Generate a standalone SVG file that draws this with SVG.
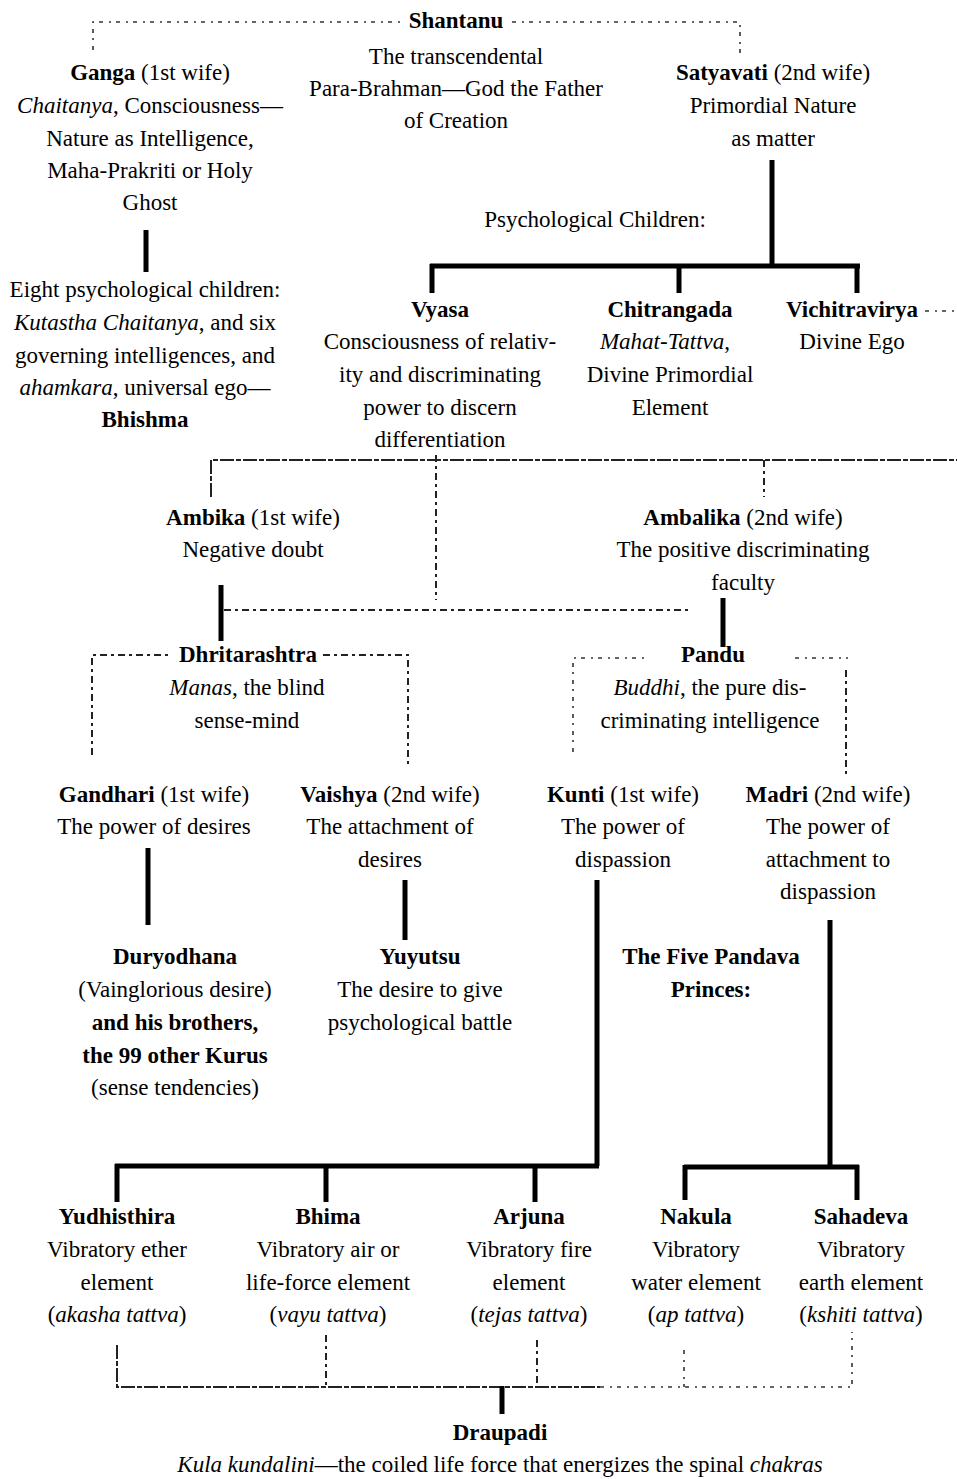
<svg xmlns="http://www.w3.org/2000/svg" width="957" height="1479" viewBox="0 0 957 1479">
<style>
text{font-family:"Liberation Serif","Times New Roman",serif;font-size:23px;fill:#000;text-anchor:middle}
.b{font-weight:bold}
.i{font-style:italic}
.thick{stroke:#000;stroke-width:5;fill:none}
.dash{stroke:#222;stroke-width:2;fill:none;stroke-dasharray:7 4 3 4}
.dense{stroke:#222;stroke-width:2;fill:none;stroke-dasharray:14 2 5 2}
.light{stroke:#333;stroke-width:1.6;fill:none;stroke-dasharray:4 6 2 5}
</style>
<rect width="957" height="1479" fill="#fff"/>
<g id="connectors">
<path class="light" d="M93 50 V22 H400"/>
<path class="light" d="M512 22 H740 V55"/>
<path class="thick" d="M146 230 V272"/>
<path class="thick" d="M772 160 V266"/>
<path class="thick" d="M430 266 H860 M432 264 V293 M679 264 V293 M857 264 V293"/>
<path class="light" d="M925 311 H957"/>
<path class="dash" d="M436 455 V600"/>
<path class="dense" d="M211 497 V460 H957"/>
<path class="dash" d="M764 460 V497"/>
<path class="thick" d="M221 585 V641"/>
<path class="dash" d="M224 610 H688"/>
<path class="thick" d="M723 598 V647"/>
<path class="dash" d="M92 755 V655 H170"/>
<path class="dash" d="M323 655 H408 V768"/>
<path class="light" d="M573 752 V658 H645"/>
<path class="light" d="M795 658 H848"/>
<path class="dash" d="M846 670 V778"/>
<path class="thick" d="M148 848 V925"/>
<path class="thick" d="M405 880 V940"/>
<path class="thick" d="M597 880 V1166 M115 1166 H599 M117 1164 V1202 M326 1164 V1202 M535 1164 V1202"/>
<path class="thick" d="M830 920 V1167 M684 1167 H859 M685 1165 V1200 M857 1165 V1200"/>
<path class="dense" d="M117 1345 V1387 H600"/>
<path class="light" d="M600 1387 H852 V1332"/>
<path class="dash" d="M326 1335 V1387"/>
<path class="dash" d="M537 1340 V1387"/>
<path class="light" d="M684 1350 V1387"/>
<path class="thick" d="M502 1386 V1414"/>
</g>
<g id="shantanu"><text x="456" y="28" class="b">Shantanu</text>
<text x="456" y="64">The transcendental</text>
<text x="456" y="96">Para-Brahman—God the Father</text>
<text x="456" y="128">of Creation</text></g>
<g id="ganga">
<text x="150" y="80"><tspan class="b">Ganga</tspan> (1st wife)</text>
<text x="150" y="113"><tspan class="i">Chaitanya</tspan>, Consciousness—</text>
<text x="150" y="146">Nature as Intelligence,</text>
<text x="150" y="178">Maha-Prakriti or Holy</text>
<text x="150" y="210">Ghost</text></g>
<g id="satyavati">
<text x="773" y="80"><tspan class="b">Satyavati</tspan> (2nd wife)</text>
<text x="773" y="113">Primordial Nature</text>
<text x="773" y="146">as matter</text></g>
<g id="psych-children"><text x="595" y="227">Psychological Children:</text></g>
<g id="bhishma">
<text x="145" y="297">Eight psychological children:</text>
<text x="145" y="330"><tspan class="i">Kutastha Chaitanya</tspan>, and six</text>
<text x="145" y="363">governing intelligences, and</text>
<text x="145" y="395"><tspan class="i">ahamkara</tspan>, universal ego—</text>
<text x="145" y="427" class="b">Bhishma</text></g>
<g id="vyasa">
<text x="440" y="317" class="b">Vyasa</text>
<text x="440" y="349">Consciousness of relativ-</text>
<text x="440" y="382">ity and discriminating</text>
<text x="440" y="415">power to discern</text>
<text x="440" y="447">differentiation</text></g>
<g id="chitrangada">
<text x="670" y="317" class="b">Chitrangada</text>
<text x="665" y="349"><tspan class="i">Mahat-Tattva</tspan>,</text>
<text x="670" y="382">Divine Primordial</text>
<text x="670" y="415">Element</text></g>
<g id="vichitravirya">
<text x="852" y="317" class="b">Vichitravirya</text>
<text x="852" y="349">Divine Ego</text></g>
<g id="ambika">
<text x="253" y="525"><tspan class="b">Ambika</tspan> (1st wife)</text>
<text x="253" y="557">Negative doubt</text></g>
<g id="ambalika">
<text x="743" y="525"><tspan class="b">Ambalika</tspan> (2nd wife)</text>
<text x="743" y="557">The positive discriminating</text>
<text x="743" y="590">faculty</text></g>
<g id="dhritarashtra">
<text x="248" y="662" class="b">Dhritarashtra</text>
<text x="247" y="695"><tspan class="i">Manas</tspan>, the blind</text>
<text x="247" y="728">sense-mind</text></g>
<g id="pandu">
<text x="713" y="662" class="b">Pandu</text>
<text x="710" y="695"><tspan class="i">Buddhi</tspan>, the pure dis-</text>
<text x="710" y="728">criminating intelligence</text></g>
<g id="gandhari">
<text x="154" y="802"><tspan class="b">Gandhari</tspan> (1st wife)</text>
<text x="154" y="834">The power of desires</text></g>
<g id="vaishya">
<text x="390" y="802"><tspan class="b">Vaishya</tspan> (2nd wife)</text>
<text x="390" y="834">The attachment of</text>
<text x="390" y="867">desires</text></g>
<g id="kunti">
<text x="623" y="802"><tspan class="b">Kunti</tspan> (1st wife)</text>
<text x="623" y="834">The power of</text>
<text x="623" y="867">dispassion</text></g>
<g id="madri">
<text x="828" y="802"><tspan class="b">Madri</tspan> (2nd wife)</text>
<text x="828" y="834">The power of</text>
<text x="828" y="867">attachment to</text>
<text x="828" y="899">dispassion</text></g>
<g id="duryodhana">
<text x="175" y="964" class="b">Duryodhana</text>
<text x="175" y="997">(Vainglorious desire)</text>
<text x="175" y="1030" class="b">and his brothers,</text>
<text x="175" y="1063" class="b">the 99 other Kurus</text>
<text x="175" y="1095">(sense tendencies)</text></g>
<g id="yuyutsu">
<text x="420" y="964" class="b">Yuyutsu</text>
<text x="420" y="997">The desire to give</text>
<text x="420" y="1030">psychological battle</text></g>
<g id="pandava-princes">
<text x="711" y="964" class="b">The Five Pandava</text>
<text x="711" y="997" class="b">Princes:</text></g>
<g id="yudhisthira">
<text x="117" y="1224" class="b">Yudhisthira</text>
<text x="117" y="1257">Vibratory ether</text>
<text x="117" y="1290">element</text>
<text x="117" y="1322">(<tspan class="i">akasha tattva</tspan>)</text></g>
<g id="bhima">
<text x="328" y="1224" class="b">Bhima</text>
<text x="328" y="1257">Vibratory air or</text>
<text x="328" y="1290">life-force element</text>
<text x="328" y="1322">(<tspan class="i">vayu tattva</tspan>)</text></g>
<g id="arjuna">
<text x="529" y="1224" class="b">Arjuna</text>
<text x="529" y="1257">Vibratory fire</text>
<text x="529" y="1290">element</text>
<text x="529" y="1322">(<tspan class="i">tejas tattva</tspan>)</text></g>
<g id="nakula">
<text x="696" y="1224" class="b">Nakula</text>
<text x="696" y="1257">Vibratory</text>
<text x="696" y="1290">water element</text>
<text x="696" y="1322">(<tspan class="i">ap tattva</tspan>)</text></g>
<g id="sahadeva">
<text x="861" y="1224" class="b">Sahadeva</text>
<text x="861" y="1257">Vibratory</text>
<text x="861" y="1290">earth element</text>
<text x="861" y="1322">(<tspan class="i">kshiti tattva</tspan>)</text></g>
<g id="draupadi">
<text x="500" y="1440" class="b">Draupadi</text>
<text x="500" y="1472"><tspan class="i">Kula kundalini</tspan>—the coiled life force that energizes the spinal <tspan class="i">chakras</tspan></text></g>
</svg>
